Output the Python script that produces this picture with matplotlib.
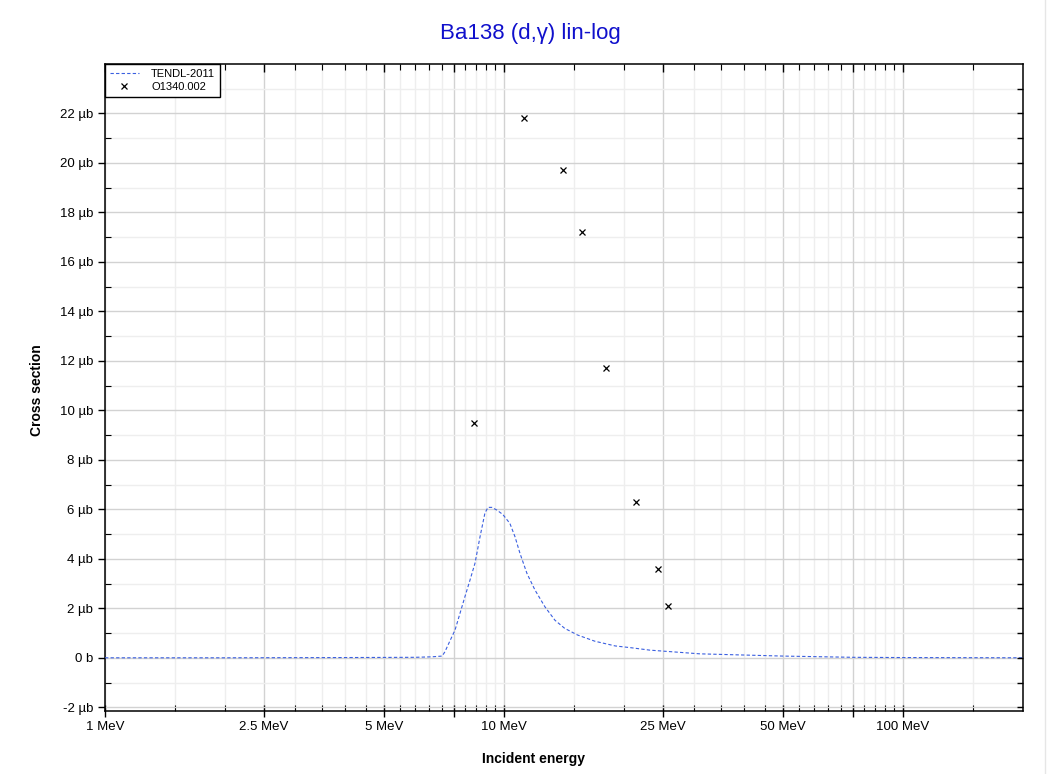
import matplotlib.pyplot as plt
from matplotlib.ticker import NullFormatter
from matplotlib.lines import Line2D

plt.rcParams['font.family'] = ['Liberation Sans', 'DejaVu Sans']

# TENDL-2011 evaluation (energy in MeV, cross section in microbarn)
tendl_e = [1.0, 2.0, 4.0, 6.0, 6.6, 7.0, 7.11, 7.33, 7.54, 7.76, 7.98, 8.22, 8.46, 8.71,
           8.96, 9.12, 9.33, 9.6, 9.94, 10.35, 10.66, 10.97, 11.42, 11.96, 12.67, 13.42,
           14.2, 15.3, 16.9, 19.0, 21.0, 23.2, 31.0, 50.0, 75.0, 100.0, 200.0]
tendl_xs = [0.0, 0.0, 0.01, 0.02, 0.04, 0.07, 0.24, 0.7, 1.12, 1.8, 2.46, 3.14, 3.82, 4.89,
            5.85, 6.08, 6.08, 5.97, 5.79, 5.43, 4.89, 4.22, 3.41, 2.74, 2.06, 1.52,
            1.19, 0.92, 0.67, 0.48, 0.40, 0.31, 0.16, 0.07, 0.02, 0.01, 0.0]

# EXFOR O1340.002 measurement
exp_e = [8.41, 11.2, 14.1, 15.7, 18.0, 21.4, 24.3, 25.8]
exp_xs = [9.5, 21.8, 19.7, 17.2, 11.7, 6.3, 3.6, 2.1]

# axis ticks
x_major = [1, 2.5, 5, 7.5, 10, 25, 50, 75, 100]
x_major_labels = ['1 MeV', '2.5 MeV', '5 MeV', '', '10 MeV', '25 MeV', '50 MeV', '', '100 MeV']
x_minor = [1.5, 2, 3, 3.5, 4, 4.5, 5.5, 6, 6.5, 7, 8, 8.5, 9, 9.5, 15, 20, 30, 35, 40, 45,
           55, 60, 65, 70, 80, 85, 90, 95, 150]
y_major = [-2, 0, 2, 4, 6, 8, 10, 12, 14, 16, 18, 20, 22]
y_major_labels = ['-2 µb', '0 b', '2 µb', '4 µb', '6 µb', '8 µb', '10 µb', '12 µb', '14 µb',
                  '16 µb', '18 µb', '20 µb', '22 µb']
y_minor = [-1, 1, 3, 5, 7, 9, 11, 13, 15, 17, 19, 21, 23]

xlim = (1, 200)
ylim = (-2.15, 24)
rect = [0.1001, 0.0814, 0.8751, 0.8359]

fig = plt.figure(figsize=(10.49, 7.74), dpi=100)
ax = fig.add_axes(rect)

ax.plot(tendl_e, tendl_xs, linestyle='--', color='#3a5fe0', linewidth=0.8,
        dashes=(3, 2), label='TENDL-2011', zorder=3)
ax.plot(exp_e, exp_xs, linestyle='none', marker='x', color='black', markersize=4.5,
        markeredgewidth=0.9, label='O1340.002', zorder=4)

ax.set_xscale('log')
ax.set_xlim(*xlim)
ax.set_ylim(*ylim)

ax.set_xticks(x_major)
ax.set_xticklabels(x_major_labels)
ax.set_xticks(x_minor, minor=True)
ax.xaxis.set_minor_formatter(NullFormatter())
ax.set_yticks(y_major)
ax.set_yticklabels(y_major_labels)
ax.set_yticks(y_minor, minor=True)

ax.grid(True, which='major', color='#d2d2d2', linewidth=1.0)
ax.grid(True, which='minor', color='#eeeeee', linewidth=1.0)
ax.set_axisbelow(True)

ax.tick_params(axis='both', which='major', labelsize=9.5, color='black', width=1.0)
ax.tick_params(axis='x', which='major', direction='inout', length=8, pad=3)
ax.tick_params(axis='x', which='minor', direction='in', length=4, width=0.8)
ax.tick_params(axis='y', which='major', direction='out', length=5)
ax.tick_params(axis='y', which='minor', direction='in', length=4, width=0.8)
for sp in ax.spines.values():
    sp.set_linewidth(1.1)
    sp.set_color('black')

# separate overlay axes for the inward ticks on the top and right edges
ov = fig.add_axes(rect, label='edges')
ov.patch.set_visible(False)
ov.set_xscale('log')
ov.set_xlim(*xlim)
ov.set_ylim(*ylim)
ov.set_xticks(x_major)
ov.set_xticks(x_minor, minor=True)
ov.set_yticks(y_major)
ov.set_yticks(y_minor, minor=True)
ov.xaxis.set_major_formatter(NullFormatter())
ov.xaxis.set_minor_formatter(NullFormatter())
ov.yaxis.set_major_formatter(NullFormatter())
ov.tick_params(which='both', direction='in', bottom=False, left=False, top=True, right=True,
               labelbottom=False, labelleft=False, color='black')
ov.tick_params(axis='x', which='major', length=6, width=1.0)
ov.tick_params(axis='x', which='minor', length=4, width=0.8)
ov.tick_params(axis='y', which='both', length=4, width=1.0)
for sp in ov.spines.values():
    sp.set_visible(False)

fig.text(534 / 1049, 1 - 759 / 774, 'Incident energy', ha='center', va='center',
         fontsize=10, fontweight='bold')
fig.text(37 / 1049, 1 - 390 / 774, 'Cross section', ha='center', va='center',
         fontsize=10, fontweight='bold', rotation=90)
fig.text(530 / 1049, 1 - 34 / 774, 'Ba138 (d,\u03b3) lin-log', ha='center', va='center',
         fontsize=16, color='#1010cc')

h, l = ax.get_legend_handles_labels()
leg = ov.legend(h, l, loc='upper left', borderaxespad=0, fontsize=8, fancybox=False,
                edgecolor='black', framealpha=1, handlelength=2.6, handletextpad=1.1,
                borderpad=0.45, labelspacing=0.25)
leg.get_frame().set_linewidth(1.0)

fig.add_artist(Line2D([1045 / 1049, 1045 / 1049], [0, 1], color='#e6e6e6', linewidth=1.0))

fig.savefig('out.png', dpi=100)
